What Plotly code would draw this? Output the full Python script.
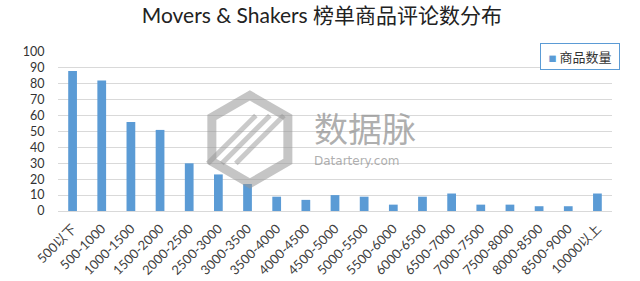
import plotly.graph_objects as go

categories = ["500以下", "500-1000", "1000-1500", "1500-2000", "2000-2500", "2500-3000",
              "3000-3500", "3500-4000", "4000-4500", "4500-5000", "5000-5500", "5500-6000",
              "6000-6500", "6500-7000", "7000-7500", "7500-8000", "8000-8500", "8500-9000",
              "10000以上"]
counts = [88, 82, 56, 51, 30, 23, 17, 9, 7, 10, 9, 4, 9, 11, 4, 4, 3, 3, 11]
series_name = "商品数量"
y_ticks = list(range(0, 101, 10))

font_family = "Lato, 'Noto Sans CJK SC', sans-serif"
bar_color = "#5b9bd5"

fig = go.Figure()
fig.add_trace(go.Bar(x=categories, y=counts, name=series_name, showlegend=False,
                     marker=dict(color=bar_color, line=dict(width=0))))

# watermark hexagon (pixel-sized shape anchored in data coords)
hex_path = "M 0 44 L 38 22 L 38 -22 L 0 -44 L -38 -22 L -38 22 Z"
fig.add_shape(type="path", xref="x", yref="y", xsizemode="pixel", ysizemode="pixel",
              xanchor=6.08, yanchor=45, path=hex_path,
              line=dict(color="rgba(150,150,150,0.55)", width=9), layer="above")
for dx in (-14, 0, 14):
    fig.add_shape(type="line", xref="x", yref="y", xsizemode="pixel", ysizemode="pixel",
                  xanchor=6.08, yanchor=45, x0=-28 + dx, y0=-24, x1=20 + dx, y1=24,
                  line=dict(color="rgba(150,150,150,0.5)", width=5), layer="above")

fig.add_annotation(text="数据脉", x=0.458, y=0.525, xref="paper", yref="paper",
                   showarrow=False, xanchor="left", yanchor="middle",
                   font=dict(size=34, color="rgba(140,140,140,0.7)",
                             family="'Noto Sans CJK SC', sans-serif"))
fig.add_annotation(text="Datartery.com", x=0.458, y=0.315, xref="paper", yref="paper",
                   showarrow=False, xanchor="left", yanchor="middle",
                   font=dict(size=12, color="rgba(140,140,140,0.7)", family="DejaVu Sans"))

# legend box
fig.add_annotation(text="<span style='color:%s;font-size:8px'>■</span> %s" % (bar_color, series_name),
                   x=0.942, y=0.972, xref="paper", yref="paper", showarrow=False,
                   xanchor="center", yanchor="middle", width=70, height=17, borderpad=4,
                   align="center", bordercolor=bar_color, borderwidth=1, bgcolor="white",
                   font=dict(size=13, color="#333333", family="'Noto Sans CJK SC', sans-serif"))

fig.update_layout(
    width=640, height=281,
    margin=dict(l=58, r=28, t=52, b=70),
    paper_bgcolor="white", plot_bgcolor="white",
    title=dict(text="Movers & Shakers 榜单商品评论数分布", x=0.503, xanchor="center",
               y=0.945, yanchor="middle",
               font=dict(size=21, color="#222222", family=font_family)),
    bargap=0.7,
    showlegend=False,
    xaxis=dict(tickangle=-45, tickfont=dict(size=13, color="#404040", family=font_family),
               showgrid=False, showline=True, linecolor="#d9d9d9", linewidth=1,
               ticks="outside", ticklen=4, tickcolor="rgba(0,0,0,0)", automargin=False),
    yaxis=dict(range=[0, 100], tickvals=y_ticks, showgrid=True, gridcolor="#d9d9d9",
               gridwidth=1, zeroline=False, automargin=False,
               ticks="outside", ticklen=10, tickcolor="rgba(0,0,0,0)",
               tickfont=dict(size=12.5, color="#333333", family=font_family)),
)

fig.write_html("out.html")
